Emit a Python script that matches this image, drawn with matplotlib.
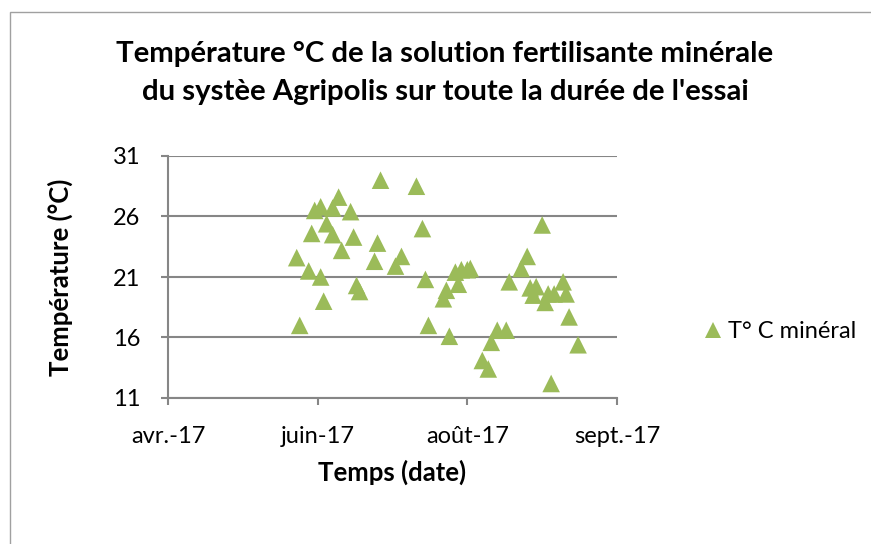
import pandas as pd
import matplotlib
matplotlib.use("Agg")
import matplotlib.pyplot as plt
from matplotlib.lines import Line2D
from matplotlib.patches import Rectangle

plt.rcParams['font.family'] = ['Lato', 'DejaVu Sans']

# days counted from 30 Apr 2017 (first tick of the date axis)
start = pd.Timestamp('2017-04-30')
day_offset = [43, 44, 47, 48, 49, 51, 51, 52, 53, 55, 55, 57, 58, 61, 62, 63,
              64, 69, 70, 71, 76, 78, 83, 85, 86, 87, 92, 93, 94, 96, 97, 98,
              100, 101, 105, 107, 108, 110, 113, 114, 118, 120, 121, 122, 123,
              125, 126, 127, 128, 129, 132, 133, 134, 137]
temp_mineral = [22.6, 17.0, 21.5, 24.6, 26.5, 26.8, 21.0, 19.0, 25.4, 26.7,
                24.5, 27.6, 23.2, 26.4, 24.3, 20.3, 19.8, 22.3, 23.8, 29.0,
                21.9, 22.7, 28.5, 25.0, 20.8, 17.0, 19.2, 19.9, 16.1, 21.4,
                20.4, 21.6, 21.6, 21.7, 14.1, 13.4, 15.6, 16.6, 16.6, 20.6,
                21.7, 22.7, 20.1, 19.5, 20.2, 25.3, 18.9, 19.6, 12.2, 19.6,
                20.6, 19.6, 17.7, 15.4]
tick_offset = [0, 50, 100, 150]
tick_labels = ['avr.-17', 'juin-17', 'août-17', 'sept.-17']
y_ticks = [11, 16, 21, 26, 31]

dates = start + pd.to_timedelta(day_offset, unit='D')
tick_dates = start + pd.to_timedelta(tick_offset, unit='D')

green = '#9BBB59'
grid_grey = '#868686'

fig = plt.figure(figsize=(8.71, 5.44), dpi=100)

# outer frame of the chart area
fig.add_artist(Rectangle((10 / 871, -0.1), 2, 1 - 12 / 544 + 0.1,
                         transform=fig.transFigure, fill=False,
                         edgecolor='#A0A0A0', linewidth=1.0))

ax = fig.add_axes([168 / 871, 1 - 398 / 544, 449 / 871, 242 / 544])
ax.scatter(dates, temp_mineral, marker='^', s=160, color=green,
           edgecolors='none', zorder=3)

ax.set_ylim(11, 31)
ax.set_yticks(y_ticks)
ax.set_xlim(tick_dates[0], tick_dates[-1])
ax.set_xticks(tick_dates)
ax.set_xticklabels(tick_labels)

ax.grid(axis='y', color=grid_grey, linewidth=1.5)
ax.set_axisbelow(True)
for side in ['top', 'right']:
    ax.spines[side].set_visible(False)
ax.spines['left'].set_color(grid_grey)
ax.spines['bottom'].set_color(grid_grey)
ax.spines['left'].set_linewidth(1.5)
ax.spines['bottom'].set_linewidth(1.5)
ax.tick_params(axis='both', colors=grid_grey, labelcolor='black',
               labelsize=17, width=1.5, length=5)
ax.tick_params(axis='x', pad=15)
ax.tick_params(axis='y', pad=15)

ax.set_xlabel('Temps (date)', fontsize=18.5, fontweight='bold')
ax.xaxis.set_label_coords(0.5, -0.255)
ax.set_ylabel('Température (°C)', fontsize=18.5, fontweight='bold')
ax.yaxis.set_label_coords(-0.212, 0.5)

fig.text(445 / 871, 1 - 73 / 544,
         "Température °C de la solution fertilisante minérale\n"
         "du systèe Agripolis sur toute la durée de l'essai",
         ha='center', va='center', fontsize=21.2, fontweight='bold',
         linespacing=1.55)

handle = Line2D([], [], marker='^', linestyle='none', color=green,
                markersize=11, markeredgewidth=0)
fig.legend([handle], ['T° C minéral'], loc='center left',
           bbox_to_anchor=(680 / 871, 1 - 332 / 544), frameon=False,
           fontsize=17, handletextpad=0.15, handlelength=1.0)

fig.savefig('out.png', dpi=100)
